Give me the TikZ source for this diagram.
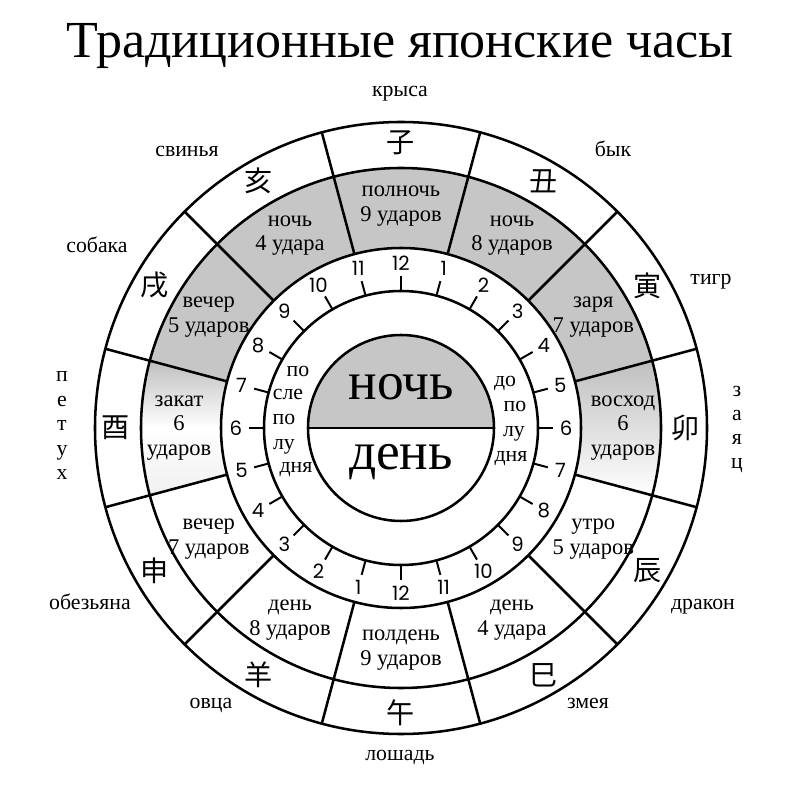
\documentclass[tikz,border=0pt]{standalone}
\usepackage{fontspec}
\setmainfont{Liberation Serif}
\newfontfamily\kanjifont{Noto Sans CJK JP}
\newfontfamily\numfont{Poppins}
\usetikzlibrary{shadings}

\begin{document}
\begin{tikzpicture}[x=0.025cm, y=0.025cm,
	ring/.style={line width=1.8pt},
	lbl/.style={font=\fontsize{16}{17.5}\selectfont, align=center, inner sep=0pt},
	animal/.style={font=\fontsize{15.5}{17}\selectfont, anchor=base, inner sep=0pt},
	kanji/.style={font=\kanjifont\fontsize{20}{20}\selectfont, inner sep=0pt},
	num/.style={font=\numfont\fontsize{14}{14}\selectfont, inner sep=0pt}]
	\useasboundingbox (-401,-372) rectangle (399,428);
	% shaded hours
	\fill[gray!45] (15:180) arc[start angle=15, end angle=165, radius=180]
		-- (165:260) arc[start angle=165, end angle=15, radius=260] -- cycle;
	\fill[top color=gray!50, bottom color=white] (-15:180) arc[start angle=-15, end angle=15, radius=180]
		-- (15:260) arc[start angle=15, end angle=-15, radius=260] -- cycle;
	\fill[top color=gray!50, bottom color=gray!12, middle color=white] (165:180) arc[start angle=165, end angle=195, radius=180]
		-- (195:260) arc[start angle=195, end angle=165, radius=260] -- cycle;
	\fill[gray!45] (93,0) arc[start angle=0, end angle=180, radius=93] -- cycle;
	% rings
	\foreach \r in {306,260,180,137,93}
		\draw[ring] (0,0) circle[radius=\r];
	\draw[ring] (-93,0) -- (93,0);
	\foreach \a in {15,45,...,345}
		\draw[ring] (\a:180) -- (\a:306);
	% clock face
	\foreach \i in {0,...,23} {
		\pgfmathsetmacro\ang{90-15*\i}
		\pgfmathtruncatemacro\h{mod(\i+11,12)+1}
		\draw[line width=1.4pt] (\ang:137) -- (\ang:152);
		\node[num] (n\i) at (\ang:165) {\h};
	}
	% signs
	\foreach \a/\k [count=\i] in {90/子, 60/丑, 30/寅, 0/卯, -30/辰, -60/巳,
		-90/午, -120/羊, -150/申, 180/酉, 150/戌, 120/亥}
		\node[kanji] (k\i) at (\a:285) {\k};
	\foreach \a/\t [count=\i] in {90/{полночь\\9 ударов}, 60/{ночь\\8 ударов},
		30/{заря\\7 ударов}, 0/{восход\\6\\ударов}, -30/{утро\\5 ударов},
		-60/{день\\4 удара}, -90/{полдень\\9 ударов}, -120/{день\\8 ударов},
		-150/{вечер\\7 ударов}, 180/{закат\\6\\ударов}, 150/{вечер\\5 ударов},
		120/{ночь\\4 удара}}
		\node[lbl] (s\i) at (\a:222) {\t};
	% animals
	\node[animal] (rat) at (-1,331) {крыса};
	\node[animal] (ox) at (212,271) {бык};
	\node[animal] (tiger) at (310,143) {тигр};
	\foreach \c [count=\i] in {з,а,я,ц}
		\node[animal] (hare\i) at (336,55-24*\i) {\c};
	\node[animal] (dragon) at (302,-181) {дракон};
	\node[animal] (snake) at (187,-280) {змея};
	\node[animal] (horse) at (-1,-332) {лошадь};
	\node[animal] (sheep) at (-190,-280) {овца};
	\node[animal] (monkey) at (-311,-181) {обезьяна};
	\foreach \c [count=\i] in {п,е,т,у,х}
		\node[animal] (cock\i) at (-339,70.5-24.5*\i) {\c};
	\node[animal] (dog) at (-304,175) {собака};
	\node[animal] (pig) at (-214,271) {свинья};
	% centre
	\node[font=\fontsize{38}{40}\selectfont, anchor=base] (night) at (0,28) {ночь};
	\node[font=\fontsize{38}{40}\selectfont, anchor=base] (day) at (0,-42) {день};
	\foreach \t/\x/\y [count=\i] in {по/-103/51, сле/-113/28, по/-117/3, лу/-117/-22, дня/-105/-45}
		\node[animal] (pl\i) at (\x,\y) {\t};
	\foreach \t/\x/\y [count=\i] in {до/104/41, по/114/16, лу/113/-9, дня/110/-34}
		\node[animal] (do\i) at (\x,\y) {\t};
	\node[font=\fontsize{37}{40}\selectfont, anchor=base] (title) at (-1,370) {Традиционные японские часы};
\end{tikzpicture}
\end{document}
